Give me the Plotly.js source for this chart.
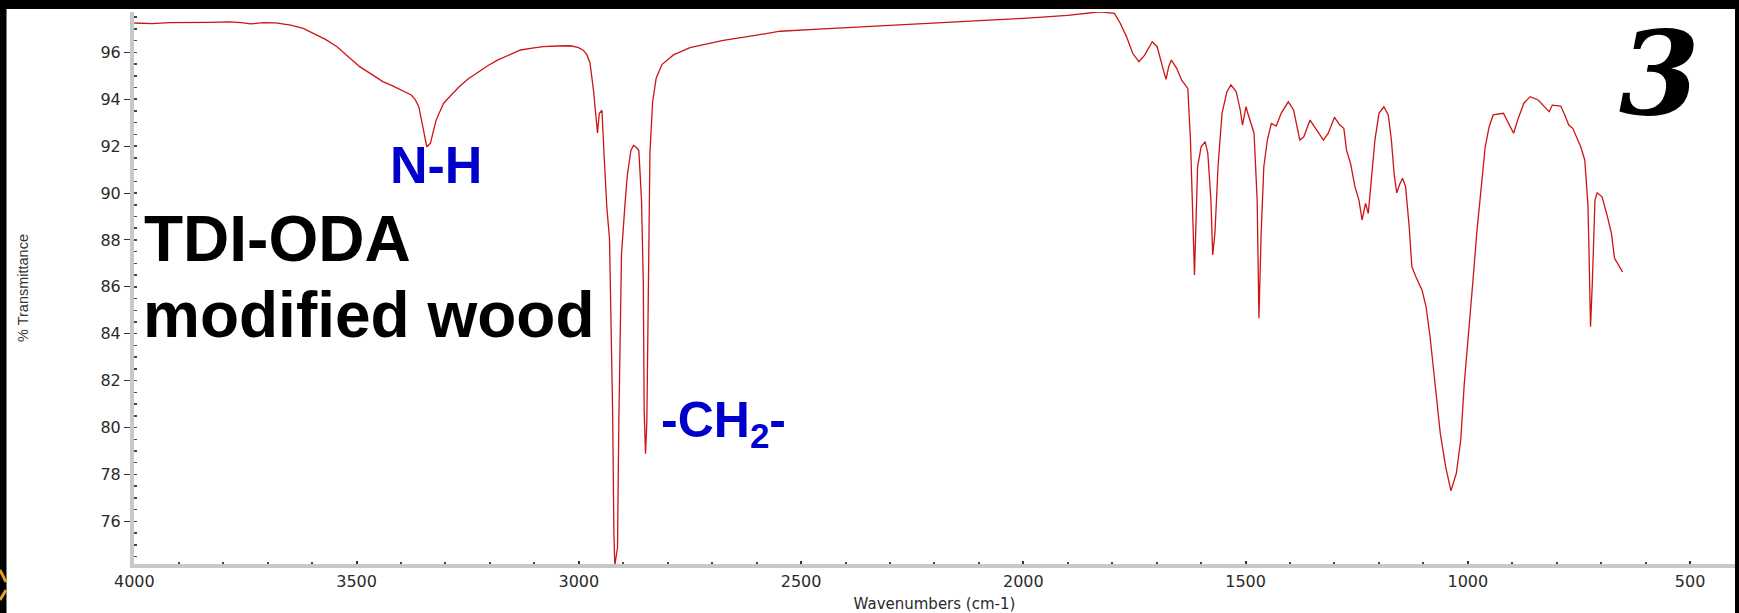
<!DOCTYPE html>
<html>
<head>
<meta charset="utf-8">
<script src="https://cdn.plot.ly/plotly-3.0.1.min.js"></script>
<style>html,body{margin:0;padding:0;background:#fff;}#chart{width:1739px;height:613px;}</style>
</head>
<body>
<div id="chart"></div>
<script>
// Wavenumber (cm-1) and % transmittance
const wavenumbers = [
 4000,3960,3920,3872,3830,3785,3760,3738,3710,3682,3648,3620,3596,3570,3544,3520,3493,3465,3441,3420,
 3407,3390,3377,3368,3360,3351,3342,3334,3328,3321,3312,3304,3285,3269,3250,3226,3205,3183,3155,3131,
 3105,3080,3050,3019,3002,2990,2982,2975,2967,2961,2958,2954,2948,2943,2937,2931,2928,2924,2921,2919,
 2916,2913,2910,2907,2904,2896,2891,2883,2877,2871,2865,2859,2855,2853,2850,2847,2844,2840,2834,2826,
 2813,2787,2750,2700,2675,2600,2547,2450,2300,2150,2000,1900,1850,1828,1795,1782,1768,1754,1740,1727,
 1710,1699,1685,1679,1673,1667,1655,1644,1630,1624,1619,1615,1611,1608,1600,1591,1585,1578,1574,1569,
 1562,1553,1542,1533,1521,1512,1507,1499,1495,1488,1481,1474,1470,1465,1459,1451,1442,1431,1420,1404,
 1392,1378,1369,1355,1341,1325,1314,1300,1288,1279,1273,1264,1254,1245,1238,1230,1224,1218,1209,1200,
 1189,1179,1172,1166,1160,1154,1147,1140,1132,1126,1117,1103,1094,1085,1074,1062,1050,1038,1026,1016,
 1008,998,989,980,970,961,952,943,920,906,897,888,874,860,842,824,817,810,791,782,
 773,764,754,746,737,730,728,724,720,717,714,709,698,686,677,670,663,652
];
const transmittance = [
 97.25,97.22,97.27,97.26,97.28,97.30,97.27,97.21,97.27,97.26,97.16,97.02,96.81,96.55,96.24,95.85,95.39,95.05,94.75,94.58,
 94.46,94.33,94.18,93.98,93.68,92.83,91.97,92.12,92.60,93.11,93.50,93.83,94.22,94.53,94.85,95.17,95.43,95.67,95.90,96.10,
 96.18,96.24,96.27,96.28,96.21,96.09,95.90,95.56,94.39,93.22,92.56,93.39,93.53,91.56,89.39,88.05,85.21,80.71,75.37,74.12,
 74.50,74.87,80.21,85.05,87.39,89.56,90.73,91.81,92.03,91.95,91.81,89.72,86.22,80.71,78.88,80.21,86.22,91.72,93.89,94.90,
 95.48,95.89,96.20,96.42,96.51,96.73,96.90,97.00,97.14,97.30,97.45,97.58,97.68,97.73,97.66,97.24,96.67,95.96,95.60,95.88,
 96.45,96.24,95.25,94.85,95.39,95.67,95.32,94.82,94.46,92.26,89.13,86.50,89.13,91.12,91.97,92.19,91.69,89.70,87.36,88.28,
 91.12,93.40,94.32,94.61,94.32,93.54,92.90,93.68,93.40,92.97,92.55,89.70,84.66,88.28,91.12,92.26,92.97,92.86,93.40,93.89,
 93.54,92.26,92.40,93.11,92.69,92.26,92.55,93.23,92.90,92.76,91.83,91.27,90.27,89.70,88.85,89.56,89.13,90.27,92.26,93.40,
 93.68,93.33,92.26,90.84,90.01,90.34,90.63,90.27,88.56,86.86,86.43,85.86,85.15,83.87,81.88,79.75,78.33,77.30,78.04,79.47,
 81.88,84.02,86.15,88.28,90.27,91.97,92.83,93.33,93.40,92.90,92.55,93.11,93.83,94.11,93.97,93.61,93.47,93.75,93.71,93.33,
 92.90,92.76,92.33,91.97,91.41,89.56,88.00,84.30,86.15,88.28,89.70,90.01,89.84,88.99,88.28,87.22,87.00,86.64
];

// Axis tick values and labels
const xTickVals = [4000,3500,3000,2500,2000,1500,1000,500];
const xTickText = ["4000","3500","3000","2500","2000","1500","1000","500"];
const yTickVals = [76,78,80,82,84,86,88,90,92,94,96];
const yTickText = ["76","78","80","82","84","86","88","90","92","94","96"];

// Text labels on the chart
const sampleLine1 = "TDI-ODA";
const sampleLine2 = "modified wood";
const peakNH = "N-H";
const peakCH2 = "-CH<sub>2</sub>-";
const panelNumber = "3";

const trace = {
  x: wavenumbers,
  y: transmittance,
  type: 'scatter',
  mode: 'lines',
  line: {color: '#cc1414', width: 1.3},
  hoverinfo: 'skip',
  showlegend: false
};

const tickFont = {family: 'DejaVu Sans, sans-serif', size: 16, color: '#2a2a2a'};

// pixel helpers for decorative frame (paper coordinates)
const L = 134, R = 4, T = 12, B = 49, W = 1739, H = 613;
const pw = W - L - R, ph = H - T - B;
const px = p => (p - L) / pw;
const py = q => (H - B - q) / ph;

const layout = {
  width: W, height: H,
  margin: {l: L, r: R, t: T, b: B, pad: 0},
  paper_bgcolor: '#ffffff',
  plot_bgcolor: '#ffffff',
  showlegend: false,
  xaxis: {
    range: [4000.7, 399],
    tickvals: xTickVals, ticktext: xTickText,
    ticks: 'inside', ticklen: 3, tickwidth: 2, tickcolor: '#333',
    minor: {dtick: 100, tick0: 0, ticks: 'inside', ticklen: 2, tickwidth: 2, tickcolor: '#444'},
    showline: true, linecolor: '#c8c8c8', linewidth: 4, mirror: false,
    showgrid: false, zeroline: false,
    tickfont: tickFont,
    title: {text: 'Wavenumbers (cm-1)', font: {family: 'DejaVu Sans, sans-serif', size: 15, color: '#2a2a2a'}, standoff: 11},
    automargin: false, fixedrange: true
  },
  yaxis: {
    range: [74.18, 97.72],
    tickvals: yTickVals, ticktext: yTickText,
    ticks: 'outside', ticklen: 6, tickwidth: 1, tickcolor: '#333',
    minor: {dtick: 0.5, tick0: 0, ticks: 'inside', ticklen: 3, tickwidth: 1.5, tickcolor: '#444'},
    showline: true, linecolor: '#c8c8c8', linewidth: 4,
    showgrid: false, zeroline: false,
    tickfont: tickFont,
    title: {text: '% Transmittance', font: {family: 'Liberation Sans, Arial, sans-serif', size: 14.5, color: '#333'}, standoff: 69},
    automargin: false, fixedrange: true
  },
  annotations: [
    {text: peakNH, x: 3321.5, y: 91.21, xref: 'x', yref: 'y', showarrow: false, xanchor: 'center', yanchor: 'middle',
     font: {family: 'Liberation Sans, Arial, sans-serif', size: 52, weight: 'bold', color: '#0000cc'}},
    {text: sampleLine1, x: 3982, y: 88.02, xref: 'x', yref: 'y', showarrow: false, xanchor: 'left', yanchor: 'middle',
     font: {family: 'Liberation Sans, Arial, sans-serif', size: 64, weight: 'bold', color: '#000'}},
    {text: sampleLine2, x: 3986, y: 84.82, xref: 'x', yref: 'y', showarrow: false, xanchor: 'left', yanchor: 'middle',
     font: {family: 'Liberation Sans, Arial, sans-serif', size: 64, weight: 'bold', color: '#000'}},
    {text: peakCH2, x: 2675, y: 80.19, xref: 'x', yref: 'y', showarrow: false, xanchor: 'center', yanchor: 'middle',
     font: {family: 'Liberation Sans, Arial, sans-serif', size: 50, weight: 'bold', color: '#0000cc'}},
    {text: panelNumber, x: 568, y: 95.14, xref: 'x', yref: 'y', showarrow: false, xanchor: 'center', yanchor: 'middle',
     font: {family: 'DejaVu Serif, serif', size: 116, weight: 'bold', style: 'italic', color: '#000'}}
  ],
  shapes: [
    // black photo frame: left, top, right
    {type: 'rect', xref: 'paper', yref: 'paper', x0: px(0), x1: px(6.5), y0: py(H), y1: py(0), fillcolor: '#000', line: {width: 0}, layer: 'above'},
    {type: 'rect', xref: 'paper', yref: 'paper', x0: px(0), x1: px(W), y0: py(9), y1: py(0), fillcolor: '#000', line: {width: 0}, layer: 'above'},
    {type: 'rect', xref: 'paper', yref: 'paper', x0: px(1735), x1: px(W), y0: py(H), y1: py(0), fillcolor: '#000', line: {width: 0}, layer: 'above'},
    // small logo fragment at bottom-left edge
    {type: 'line', xref: 'paper', yref: 'paper', x0: px(0), x1: px(6), y0: py(570), y1: py(582), line: {color: '#e2a21c', width: 3}, layer: 'above'},
    {type: 'line', xref: 'paper', yref: 'paper', x0: px(0), x1: px(6), y0: py(600), y1: py(590), line: {color: '#e2a21c', width: 3}, layer: 'above'}
  ]
};

Plotly.newPlot('chart', [trace], layout, {displayModeBar: false, staticPlot: true});
</script>
</body>
</html>
